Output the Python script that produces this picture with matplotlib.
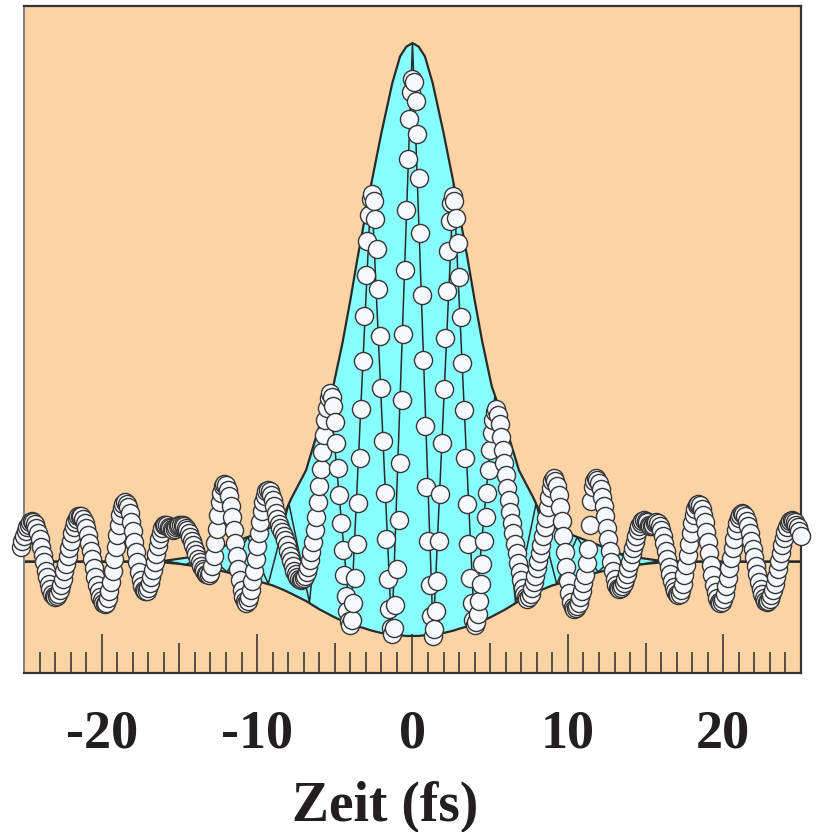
import matplotlib.pyplot as plt

# Messdaten: Verzoegerung (fs) und Signal (normiert, Untergrund = 1)
delay_fs = [
    -25.2, -25.1, -25.0, -24.9, -24.8, -24.7, -24.6, -24.5, -24.4, -24.3,
    -24.2, -24.1, -24.0, -23.9, -23.8, -23.7, -23.6, -23.5, -23.4, -23.3,
    -23.2, -23.1, -23.0, -22.9, -22.8, -22.7, -22.6, -22.5, -22.4, -22.3,
    -22.2, -22.1, -22.0, -21.9, -21.8, -21.7, -21.6, -21.5, -21.4, -21.3,
    -21.2, -21.1, -21.0, -20.9, -20.8, -20.7, -20.6, -20.5, -20.4, -20.3,
    -20.2, -20.1, -20.0, -19.9, -19.8, -19.7, -19.6, -19.5, -19.4, -19.3,
    -19.2, -19.1, -19.0, -18.9, -18.8, -18.7, -18.6, -18.5, -18.4, -18.3,
    -18.2, -18.1, -18.0, -17.9, -17.8, -17.7, -17.6, -17.5, -17.4, -17.3,
    -17.2, -17.1, -17.0, -16.9, -16.8, -16.7, -16.6, -16.5, -16.4, -16.3,
    -16.2, -16.1, -16.0, -15.9, -15.8, -15.7, -15.6, -15.5, -15.4, -15.3,
    -15.2, -15.1, -15.0, -14.9, -14.8, -14.7, -14.6, -14.5, -14.4, -14.3,
    -14.2, -14.1, -14.0, -13.9, -13.8, -13.7, -13.6, -13.5, -13.4, -13.3,
    -13.2, -13.1, -13.0, -12.9, -12.8, -12.7, -12.6, -12.5, -12.4, -12.3,
    -12.2, -12.1, -12.0, -11.9, -11.8, -11.7, -11.6, -11.5, -11.4, -11.3,
    -11.2, -11.1, -11.0, -10.9, -10.8, -10.7, -10.6, -10.5, -10.4, -10.3,
    -10.2, -10.1, -10.0, -9.9, -9.8, -9.7, -9.6, -9.5, -9.4, -9.3,
    -9.2, -9.1, -9.0, -8.9, -8.8, -8.7, -8.6, -8.5, -8.4, -8.3,
    -8.2, -8.1, -8.0, -7.9, -7.8, -7.7, -7.6, -7.5, -7.4, -7.3,
    -7.2, -7.1, -7.0, -6.9, -6.8, -6.7, -6.6, -6.5, -6.4, -6.3,
    -6.2, -6.1, -6.0, -5.9, -5.8, -5.7, -5.6, -5.5, -5.4, -5.3,
    -5.2, -5.1, -5.0, -4.9, -4.8, -4.7, -4.6, -4.5, -4.4, -4.3,
    -4.2, -4.1, -4.0, -3.9, -3.8, -3.7, -3.6, -3.5, -3.4, -3.3,
    -3.2, -3.1, -3.0, -2.9, -2.8, -2.7, -2.6, -2.5, -2.4, -2.3,
    -2.2, -2.1, -2.0, -1.9, -1.8, -1.7, -1.6, -1.5, -1.4, -1.3,
    -1.2, -1.1, -1.0, -0.9, -0.8, -0.7, -0.6, -0.5, -0.4, -0.3,
    -0.2, -0.1, 0.0, 0.1, 0.2, 0.3, 0.4, 0.5, 0.6, 0.7,
    0.8, 0.9, 1.0, 1.1, 1.2, 1.3, 1.4, 1.5, 1.6, 1.7,
    1.8, 1.9, 2.0, 2.1, 2.2, 2.3, 2.4, 2.5, 2.6, 2.7,
    2.8, 2.9, 3.0, 3.1, 3.2, 3.3, 3.4, 3.5, 3.6, 3.7,
    3.8, 3.9, 4.0, 4.1, 4.2, 4.3, 4.4, 4.5, 4.6, 4.7,
    4.8, 4.9, 5.0, 5.1, 5.2, 5.3, 5.4, 5.5, 5.6, 5.7,
    5.8, 5.9, 6.0, 6.1, 6.2, 6.3, 6.4, 6.5, 6.6, 6.7,
    6.8, 6.9, 7.0, 7.1, 7.2, 7.3, 7.4, 7.5, 7.6, 7.7,
    7.8, 7.9, 8.0, 8.1, 8.2, 8.3, 8.4, 8.5, 8.6, 8.7,
    8.8, 8.9, 9.0, 9.1, 9.2, 9.3, 9.4, 9.5, 9.6, 9.7,
    9.8, 9.9, 10.0, 10.1, 10.2, 10.3, 10.4, 10.5, 10.6, 10.7,
    10.8, 10.9, 11.0, 11.1, 11.2, 11.3, 11.4, 11.5, 11.6, 11.7,
    11.8, 11.9, 12.0, 12.1, 12.2, 12.3, 12.4, 12.5, 12.6, 12.7,
    12.8, 12.9, 13.0, 13.1, 13.2, 13.3, 13.4, 13.5, 13.6, 13.7,
    13.8, 13.9, 14.0, 14.1, 14.2, 14.3, 14.4, 14.5, 14.6, 14.7,
    14.8, 14.9, 15.0, 15.1, 15.2, 15.3, 15.4, 15.5, 15.6, 15.7,
    15.8, 15.9, 16.0, 16.1, 16.2, 16.3, 16.4, 16.5, 16.6, 16.7,
    16.8, 16.9, 17.0, 17.1, 17.2, 17.3, 17.4, 17.5, 17.6, 17.7,
    17.8, 17.9, 18.0, 18.1, 18.2, 18.3, 18.4, 18.5, 18.6, 18.7,
    18.8, 18.9, 19.0, 19.1, 19.2, 19.3, 19.4, 19.5, 19.6, 19.7,
    19.8, 19.9, 20.0, 20.1, 20.2, 20.3, 20.4, 20.5, 20.6, 20.7,
    20.8, 20.9, 21.0, 21.1, 21.2, 21.3, 21.4, 21.5, 21.6, 21.7,
    21.8, 21.9, 22.0, 22.1, 22.2, 22.3, 22.4, 22.5, 22.6, 22.7,
    22.8, 22.9, 23.0, 23.1, 23.2, 23.3, 23.4, 23.5, 23.6, 23.7,
    23.8, 23.9, 24.0, 24.1, 24.2, 24.3, 24.4, 24.5, 24.6, 24.7,
    24.8, 24.9, 25.0,
]
signal = [
    1.20, 1.28, 1.35, 1.41, 1.46, 1.50, 1.54, 1.55, 1.54, 1.51,
    1.45, 1.38, 1.30, 1.20, 1.09, 0.99, 0.88, 0.79, 0.70, 0.63,
    0.57, 0.54, 0.53, 0.54, 0.57, 0.62, 0.69, 0.77, 0.87, 0.97,
    1.08, 1.18, 1.28, 1.38, 1.46, 1.53, 1.58, 1.61, 1.62, 1.61,
    1.58, 1.52, 1.45, 1.36, 1.25, 1.14, 1.03, 0.91, 0.80, 0.69,
    0.60, 0.53, 0.48, 0.44, 0.43, 0.45, 0.51, 0.60, 0.73, 0.87,
    1.03, 1.20, 1.36, 1.50, 1.63, 1.72, 1.78, 1.80, 1.78, 1.73,
    1.65, 1.54, 1.41, 1.27, 1.13, 0.99, 0.86, 0.75, 0.67, 0.62,
    0.60, 0.61, 0.65, 0.71, 0.79, 0.89, 1.00, 1.10, 1.21, 1.31,
    1.39, 1.45, 1.49, 1.50, 1.49, 1.47, 1.45, 1.44, 1.43, 1.44,
    1.46, 1.48, 1.50, 1.50, 1.49, 1.48, 1.45, 1.42, 1.38, 1.33,
    1.28, 1.22, 1.16, 1.10, 1.04, 0.99, 0.94, 0.90, 0.87, 0.84,
    0.83, 0.82, 0.85, 0.94, 1.07, 1.25, 1.44, 1.63, 1.80, 1.93,
    2.02, 2.05, 2.03, 1.97, 1.88, 1.75, 1.60, 1.43, 1.25, 1.07,
    0.90, 0.75, 0.62, 0.53, 0.47, 0.45, 0.47, 0.53, 0.62, 0.74,
    0.88, 1.04, 1.21, 1.38, 1.54, 1.68, 1.80, 1.89, 1.95, 1.97,
    1.95, 1.90, 1.83, 1.75, 1.66, 1.58, 1.51, 1.45, 1.40, 1.35,
    1.29, 1.22, 1.15, 1.08, 1.01, 0.94, 0.88, 0.83, 0.79, 0.76,
    0.75, 0.76, 0.78, 0.81, 0.86, 0.93, 1.02, 1.13, 1.26, 1.42,
    1.60, 1.80, 2.02, 2.25, 2.48, 2.70, 2.90, 3.07, 3.20, 3.27,
    3.22, 3.09, 2.88, 2.60, 2.26, 1.90, 1.52, 1.16, 0.82, 0.54,
    0.33, 0.20, 0.15, 0.22, 0.44, 0.78, 1.24, 1.79, 2.40, 3.05,
    3.70, 4.31, 4.86, 5.32, 5.66, 5.88, 5.95, 5.86, 5.61, 5.21,
    4.67, 4.04, 3.34, 2.63, 1.93, 1.30, 0.76, 0.36, 0.11, 0.02,
    0.11, 0.41, 0.90, 1.56, 2.33, 3.18, 4.06, 4.93, 5.73, 6.42,
    6.96, 7.32, 7.49, 7.45, 7.20, 6.76, 6.16, 5.42, 4.59, 3.71,
    2.83, 2.01, 1.28, 0.69, 0.27, 0.00, 0.09, 0.34, 0.74, 1.28,
    1.91, 2.60, 3.32, 4.01, 4.64, 5.18, 5.58, 5.83, 5.92, 5.85,
    5.63, 5.29, 4.83, 4.29, 3.68, 3.04, 2.39, 1.78, 1.24, 0.78,
    0.44, 0.22, 0.15, 0.19, 0.29, 0.47, 0.70, 0.97, 1.28, 1.60,
    1.92, 2.23, 2.50, 2.73, 2.91, 3.01, 3.05, 2.98, 2.85, 2.68,
    2.50, 2.33, 2.16, 1.99, 1.83, 1.67, 1.52, 1.38, 1.24, 1.11,
    0.98, 0.86, 0.75, 0.65, 0.57, 0.52, 0.50, 0.52, 0.57, 0.64,
    0.72, 0.81, 0.91, 1.01, 1.12, 1.23, 1.34, 1.46, 1.59, 1.73,
    1.87, 1.99, 2.08, 2.12, 2.09, 2.02, 1.90, 1.74, 1.55, 1.35,
    1.13, 0.93, 0.74, 0.58, 0.46, 0.39, 0.36, 0.37, 0.40, 0.45,
    0.52, 0.61, 0.71, 0.82, 0.98, 1.17, 1.49, 1.82, 2.00, 2.09,
    2.12, 2.10, 2.06, 1.98, 1.87, 1.75, 1.61, 1.45, 1.30, 1.14,
    1.00, 0.88, 0.77, 0.69, 0.65, 0.63, 0.64, 0.67, 0.71, 0.77,
    0.84, 0.92, 1.00, 1.10, 1.19, 1.27, 1.35, 1.42, 1.48, 1.52,
    1.55, 1.56, 1.55, 1.53, 1.50, 1.48, 1.48, 1.50, 1.52, 1.53,
    1.52, 1.48, 1.42, 1.35, 1.25, 1.15, 1.04, 0.93, 0.83, 0.74,
    0.66, 0.60, 0.56, 0.55, 0.57, 0.62, 0.70, 0.82, 0.95, 1.09,
    1.24, 1.38, 1.52, 1.63, 1.71, 1.76, 1.78, 1.76, 1.71, 1.63,
    1.53, 1.40, 1.26, 1.11, 0.96, 0.82, 0.69, 0.59, 0.51, 0.46,
    0.44, 0.46, 0.50, 0.57, 0.67, 0.78, 0.91, 1.05, 1.18, 1.31,
    1.42, 1.52, 1.59, 1.63, 1.65, 1.64, 1.61, 1.55, 1.48, 1.39,
    1.28, 1.17, 1.06, 0.94, 0.83, 0.72, 0.63, 0.56, 0.51, 0.47,
    0.46, 0.47, 0.50, 0.55, 0.62, 0.70, 0.80, 0.90, 1.01, 1.12,
    1.22, 1.32, 1.40, 1.47, 1.52, 1.55, 1.56, 1.55, 1.53, 1.50,
    1.46, 1.41, 1.35,
]

# Anpassung: obere / untere Einhuellende und Interferenzstreifen
fit_t = [-25.0, -17.0, -16.0, -15.0, -14.0, -13.0, -12.0, -11.0, -10.0, -9.0,
         -8.3, -7.8, -6.85, -6.0, -5.1, -4.5, -4.0, -3.55, -3.05, -2.6,
         -2.0, -1.3, -0.8, -0.4, 0.0, 0.4, 0.8, 1.3, 2.0, 2.6,
         3.05, 3.55, 4.0, 4.5, 5.1, 6.0, 6.85, 7.8, 8.3, 9.0,
         10.0, 11.0, 12.0, 13.0, 14.0, 15.0, 16.0, 17.0, 25.0]
fit_hi = [1.0, 1.0, 1.01, 1.04, 1.07, 1.13, 1.22, 1.30, 1.38, 1.47,
          1.62, 1.85, 2.23, 2.82, 3.36, 3.95, 4.52, 5.07, 5.64, 6.14,
          6.77, 7.44, 7.80, 7.93, 7.98, 7.93, 7.80, 7.44, 6.77, 6.14,
          5.64, 5.07, 4.52, 3.95, 3.36, 2.82, 2.23, 1.85, 1.62, 1.47,
          1.38, 1.30, 1.22, 1.13, 1.07, 1.04, 1.01, 1.0, 1.0]
fit_lo = [1.0, 1.0, 0.99, 0.97, 0.94, 0.91, 0.86, 0.80, 0.74, 0.68,
          0.62, 0.57, 0.47, 0.36, 0.26, 0.20, 0.16, 0.13, 0.10, 0.07,
          0.04, 0.02, 0.01, 0.0, 0.0, 0.0, 0.01, 0.02, 0.04, 0.07,
          0.10, 0.13, 0.16, 0.20, 0.26, 0.36, 0.47, 0.57, 0.62, 0.68,
          0.74, 0.80, 0.86, 0.91, 0.94, 0.97, 0.99, 1.0, 1.0]
fringe_t = [-17.23, -15.9, -14.58, -13.25, -11.93, -10.6, -9.28, -7.95, -6.63,
            -5.3, -3.98, -2.65, -1.33, 0.0, 1.33, 2.65, 3.98, 5.3,
            6.63, 7.95, 9.28, 10.6, 11.93, 13.25, 14.58, 15.9, 17.23]
fringe_y = [1.0, 1.01, 0.96, 1.11, 0.86, 1.33, 0.70, 1.78, 0.45,
            3.24, 0.16, 6.09, 0.02, 7.98, 0.02, 6.09, 0.16, 3.24,
            0.45, 1.78, 0.70, 1.33, 0.86, 1.11, 0.96, 1.01, 1.0]

tick_values = [-20, -10, 0, 10, 20]
tick_text = ['-20', '-10', '0', '10', '20']
mid_ticks = [-15, -5, 5, 15]

peach = '#FCD3A5'
cyan = '#88FFFF'
ink = '#231F20'
line_col = '#2A2A2A'

plt.rcParams['font.family'] = ['Liberation Serif', 'DejaVu Serif']

fig = plt.figure(figsize=(8.19, 8.32), dpi=100)
ax = fig.add_axes([0.0293, 0.1908, 0.9487, 0.8024])
ax.set_facecolor(peach)

ax.fill_between(fit_t, fit_lo, fit_hi, color=cyan, lw=0, zorder=1)
ax.plot(fringe_t, fringe_y, color=line_col, lw=1.1, zorder=2)
ax.plot(fit_t, fit_hi, color=line_col, lw=1.6, zorder=2)
ax.plot(fit_t, fit_lo, color=line_col, lw=1.6, zorder=2)

ax.scatter(delay_fs, signal, s=170, facecolor='#F8F9FE', edgecolor='#353535',
           linewidth=1.0, zorder=3, clip_on=False)

ax.set_xlim(-25, 25)
ax.set_ylim(-0.502, 8.483)

major = sorted(tick_values + mid_ticks)
ax.set_xticks(major)
ax.set_xticklabels([tick_text[tick_values.index(v)] if v in tick_values else '' for v in major])
ax.set_xticks(range(-24, 25), minor=True)
ax.set_yticks([])
ax.tick_params(axis='x', which='major', direction='in', length=28, width=1.1,
               color=line_col, pad=26, labelsize=39, labelcolor=ink)
ax.tick_params(axis='x', which='minor', direction='in', length=15, width=1.1,
               color=line_col)
for tick, v in zip(ax.xaxis.get_major_ticks(), major):
    if v in mid_ticks:
        tick.tick1line.set_markersize(21.6)
for lab in ax.get_xticklabels():
    lab.set_fontweight('bold')

ax.set_xlabel('Zeit (fs)', fontsize=40, fontweight='bold', color=ink)
ax.xaxis.label.set_va('baseline')
ax.xaxis.set_label_coords(0.4653, -0.2208)

ax.spines['left'].set_color('#7F7F7F')
ax.spines['left'].set_linewidth(1.4)
for side in ['top', 'right', 'bottom']:
    ax.spines[side].set_color('#333333')
    ax.spines[side].set_linewidth(1.6)

fig.savefig('out.png', dpi=100)
